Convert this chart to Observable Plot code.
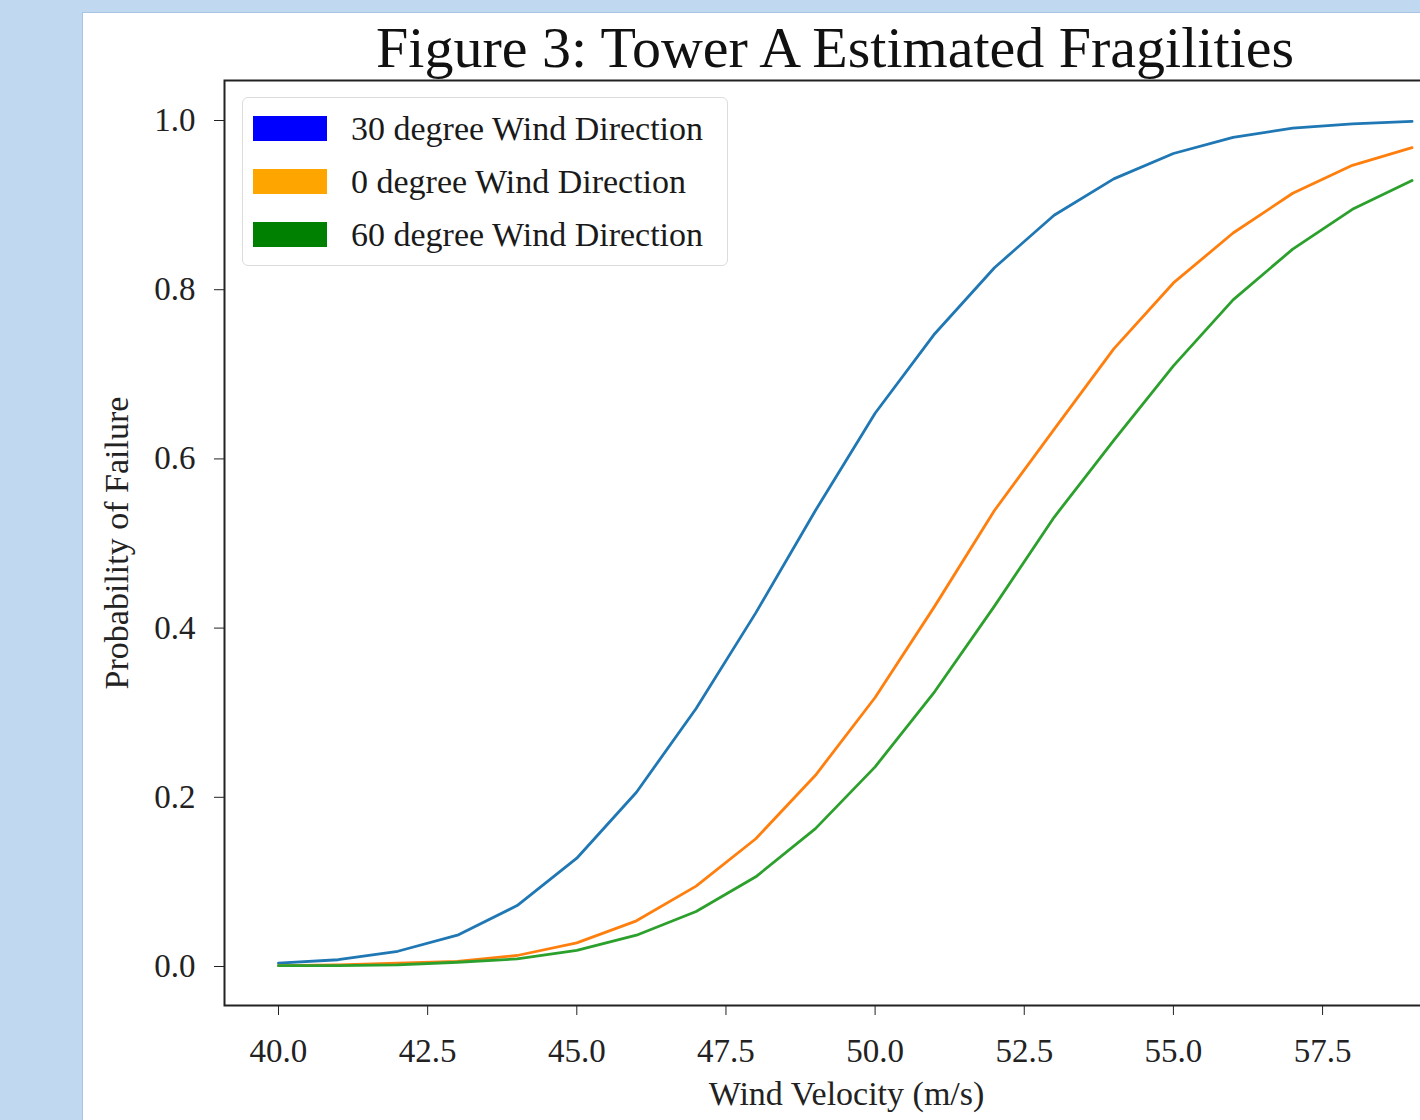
<!DOCTYPE html>
<html>
<head>
<meta charset="utf-8">
<script src="https://cdn.jsdelivr.net/npm/d3@7"></script>
<script src="https://cdn.jsdelivr.net/npm/@observablehq/plot@0.6"></script>
<style>
  html, body { margin: 0; padding: 0; }
  body { width: 1420px; height: 1120px; overflow: hidden; background: #c0d8f0; position: relative; font-family: "Liberation Serif", serif; }
  #panel { position: absolute; left: 82px; top: 12px; width: 1400px; height: 1200px; background: #fff; border: 1px solid #a8c4e4; }
  #chart { position: absolute; left: 0; top: 0; width: 1500px; height: 1120px; }
  #chart svg { max-width: none !important; }
  #title { position: absolute; left: 0; width: 1670px; top: 19px; text-align: center; font-size: 58px; color: #111; line-height: 1; white-space: nowrap; }
  #legend { position: absolute; left: 242px; top: 97px; width: 484px; height: 167px; border: 1.5px solid #dcdcdc; border-radius: 6px; background: rgba(255,255,255,0.85); }
  .row { position: absolute; left: 0; height: 53px; display: flex; align-items: center; }
  .sw { width: 74px; height: 25px; margin-left: 10px; margin-right: 24px; }
  .lab { font-size: 34px; color: #1a1a1a; white-space: nowrap; }
</style>
</head>
<body>
<div id="panel"></div>
<div id="chart"></div>
<div id="title">Figure 3: Tower A Estimated Fragilities</div>
<div id="legend"></div>
<script>
const velocity = [40,41,42,43,44,45,46,47,48,49,50,51,52,53,54,55,56,57,58,59];
const dir30 = [0.004,0.008,0.018,0.037,0.072,0.128,0.206,0.305,0.418,0.539,0.654,0.748,0.826,0.888,0.931,0.961,0.980,0.991,0.996,0.999];
const dir0  = [0.001,0.002,0.004,0.006,0.013,0.028,0.054,0.095,0.151,0.226,0.318,0.426,0.539,0.635,0.730,0.808,0.867,0.914,0.947,0.968];
const dir60 = [0.001,0.001,0.002,0.005,0.009,0.019,0.037,0.065,0.106,0.163,0.236,0.325,0.426,0.531,0.622,0.710,0.788,0.848,0.895,0.929];
const seriesNames = ["30 degree Wind Direction","0 degree Wind Direction","60 degree Wind Direction"];
const lineColors = ["#1f77b4","#ff7f0e","#2ca02c"];
const legendColors = ["#0000ff","#ffa500","#008000"];
const xTicks = [40,42.5,45,47.5,50,52.5,55,57.5];
const yTicks = [0,0.2,0.4,0.6,0.8,1.0];

const seriesValues = [dir30, dir0, dir60];
const data = [];
seriesValues.forEach((vals, i) => vals.forEach((v, j) => data.push({series: seriesNames[i], x: velocity[j], y: v})));

const font = "Liberation Serif";
const plot = Plot.plot({
  width: 1500,
  height: 1120,
  marginLeft: 224,
  marginRight: 32,
  marginTop: 80,
  marginBottom: 115,
  style: {background: "transparent", fontFamily: font, color: "#222", overflow: "visible", maxWidth: "none"},
  x: {domain: [39.095, 59.946]},
  y: {domain: [-0.0461, 1.0473]},
  color: {domain: seriesNames, range: lineColors},
  marks: [
    Plot.axisX({ticks: xTicks, tickFormat: d3.format(".1f"), tickSize: 10, tickPadding: 23, fontSize: 33,
      label: "Wind Velocity (m/s)", labelAnchor: "center", labelArrow: "none", labelOffset: 99, stroke: "#222"}),
    Plot.axisY({ticks: yTicks, tickFormat: d3.format(".1f"), tickSize: 10, tickPadding: 19, fontSize: 33,
      label: "Probability of Failure", labelAnchor: "center", labelArrow: "none", labelOffset: 121, stroke: "#222"}),
    Plot.line(data, {x: "x", y: "y", stroke: "series", strokeWidth: 2.8, curve: "linear"}),
    Plot.frame({stroke: "#222", strokeWidth: 2})
  ]
});
plot.style.maxWidth = "none";
d3.select(plot).selectAll("g[aria-label='x-axis label'] text, g[aria-label='y-axis label'] text").attr("font-size", 34);
document.getElementById("chart").appendChild(plot);

const legend = document.getElementById("legend");
seriesNames.forEach((name, i) => {
  const row = document.createElement("div");
  row.className = "row";
  row.style.top = (4 + i * 53) + "px";
  row.innerHTML = `<div class="sw" style="background:${legendColors[i]}"></div><div class="lab">${name}</div>`;
  legend.appendChild(row);
});
</script>
</body>
</html>
